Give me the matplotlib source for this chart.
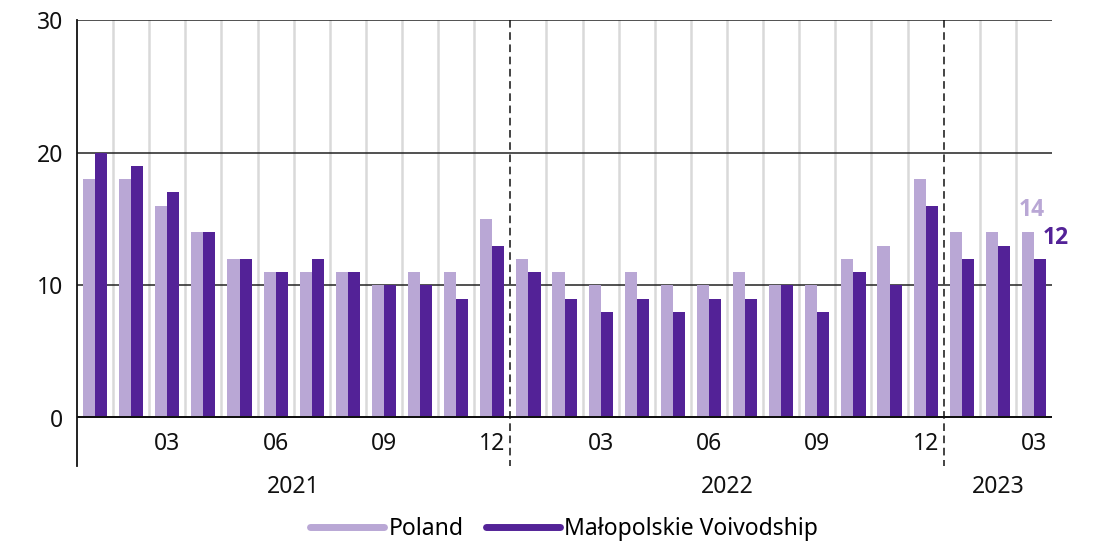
import matplotlib
matplotlib.use('agg')
import matplotlib.pyplot as plt  # noqa: E402
from matplotlib.lines import Line2D  # noqa: E402
import numpy as np  # noqa: E402

plt.rcParams['font.family'] = ['Noto Sans', 'DejaVu Sans']

# monthly data, 2021-01 .. 2023-03
poland = [18, 18, 16, 14, 12, 11, 11, 11, 10, 11, 11, 15,
          12, 11, 10, 11, 10, 10, 11, 10, 10, 12, 13, 18,
          14, 14, 14]
malopolskie = [20, 19, 17, 14, 12, 11, 12, 11, 10, 10, 9, 13,
               11, 9, 8, 9, 8, 9, 9, 10, 8, 11, 10, 16,
               12, 13, 12]
month_labels = ['', '', '03', '', '', '06', '', '', '09', '', '', '12',
                '', '', '03', '', '', '06', '', '', '09', '', '', '12',
                '', '', '03']
years = ['2021', '2022', '2023']
year_centers = [5.5, 17.5, 25]
year_breaks = [11.5, 23.5]

c_light = '#b9a7d5'
c_dark = '#532297'

fig = plt.figure(figsize=(11, 5.41), dpi=100)
ax = fig.add_axes([0.07, 0.2274, 0.8864, 0.7356])

x = np.arange(len(poland))
w = 0.335
ax.bar(x - w/2, poland, w, color=c_light, zorder=3)
ax.bar(x + w/2, malopolskie, w, color=c_dark, zorder=3)

ax.set_xlim(-0.5, len(poland) - 0.5)
ax.set_ylim(0, 30)

# vertical month separators
for b in np.arange(0.5, len(poland) - 1, 1.0):
    if b in year_breaks:
        continue
    ax.axvline(b, color='#d9d9d9', lw=1.8, zorder=1)

# horizontal grid
for yv in [10, 20, 30]:
    ax.axhline(yv, color='#222222', lw=1.1, zorder=2)
ax.axhline(0, color='#111111', lw=3.6, zorder=4)

# year separators, extended below the axis
for b in year_breaks:
    ax.add_line(Line2D([b, b], [30, -3.65], color='#111111', lw=1.1,
                       linestyle=(0, (5, 3)), clip_on=False, zorder=5))
ax.add_line(Line2D([-0.5, -0.5], [30, -3.65], color='#111111', lw=1.3,
                   clip_on=False, zorder=5))

for s in ax.spines.values():
    s.set_visible(False)

ax.set_xticks(x)
ax.set_xticklabels(month_labels)
ax.set_yticks([0, 10, 20, 30])
ax.tick_params(axis='both', length=0, labelsize=16.5, colors='#111111')
ax.tick_params(axis='x', pad=10)
ax.tick_params(axis='y', pad=10)

for yr, xc in zip(years, year_centers):
    ax.text(xc, -5.2, yr, ha='center', va='center', fontsize=16.5, color='#111111')

# end value labels
bold_fam = ['Open Sans', 'DejaVu Sans']
ax.text(25.95, 15.7, str(poland[-1]), ha='center', va='center', fontsize=16.5,
        fontweight='bold', family=bold_fam, color=c_light)
ax.text(26.6, 13.6, str(malopolskie[-1]), ha='center', va='center', fontsize=16.5,
        fontweight='bold', family=bold_fam, color=c_dark)

handles = [Line2D([], [], color=c_light, lw=5, solid_capstyle='round'),
           Line2D([], [], color=c_dark, lw=5, solid_capstyle='round')]
fig.legend(handles, ['Poland', 'Małopolskie Voivodship'], loc='center',
           bbox_to_anchor=(0.513, 0.022), ncol=2, frameon=False, fontsize=16.5,
           handlelength=3.2, handletextpad=0.2, columnspacing=1.0)

fig.savefig('out.png', dpi=100)
